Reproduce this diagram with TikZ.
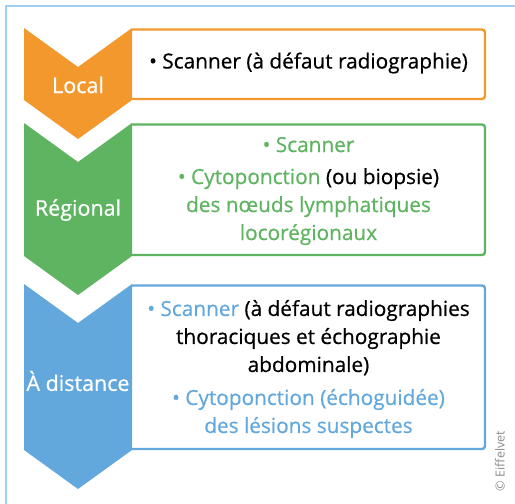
\documentclass[tikz,border=0pt]{standalone}
\usepackage{fontspec}
\setmainfont[FakeBold=0.6]{Open Sans}
\newfontfamily\plainsans{Open Sans}
\definecolor{orangeC}{RGB}{243,152,45}
\definecolor{greenC}{RGB}{94,180,97}
\definecolor{blueC}{RGB}{99,168,220}
\definecolor{frameC}{RGB}{160,205,240}
\definecolor{copyC}{RGB}{140,140,140}
\begin{document}
\begin{tikzpicture}[x=1pt,y=-1pt,
  chevlabel/.style={text=white,font=\fontsize{21.5}{25}\selectfont},
  boxframe/.style={line width=2.4pt,rounded corners=3pt},
  boxtext/.style={align=center,font=\fontsize{20.8}{28}\selectfont,inner sep=0pt},
  copytext/.style={rotate=90,text=copyC,font=\plainsans\fontsize{12.5}{14}\selectfont}]
\useasboundingbox (0,0) rectangle (515,504);
% outer frame, open to the right and bottom edges
\draw[frameC,line width=1.5pt] (6,520) -- (6,6) -- (530,6);

% chevrons
\fill[orangeC] (24,28) -- (78,67) -- (132,28) -- (132,100) -- (78,139) -- (24,100) -- cycle;
\fill[greenC]  (24,123) -- (78,162) -- (132,123) -- (132,256) -- (78,295) -- (24,256) -- cycle;
\fill[blueC]   (24,284) -- (78,323) -- (132,284) -- (132,450) -- (78,489) -- (24,450) -- cycle;

% boxes attached to the chevrons
\draw[orangeC,boxframe] (132,29.5) -- (485,29.5) -- (485,99) -- (132,99);
\draw[greenC,boxframe]  (132,124.5) -- (485,124.5) -- (485,255) -- (132,255);
\draw[blueC,boxframe]   (132,285.5) -- (485,285.5) -- (485,449) -- (132,449);

% stage labels
\node[chevlabel] (local) at (78,85) {Local};
\node[chevlabel] (regional) at (78,210) {Régional};
\node[chevlabel] (distance) at (78,381) {À distance};

% box contents
\node[boxtext] (t1) at (308.5,63) {• Scanner (à défaut radiographie)};
\node[boxtext,text=greenC] (t2) at (308.5,191) {• Scanner\\[4pt]
  • Cytoponction \textcolor{black}{(ou biopsie)}\\
  des nœuds lymphatiques\\
  locorégionaux};
\node[boxtext] (t3) at (308.5,369) {\textcolor{blueC}{• Scanner} (à défaut radiographies\\
  thoraciques et échographie\\
  abdominale)\\[5pt]
  \textcolor{blueC}{• Cytoponction (échoguidée)}\\
  \textcolor{blueC}{des lésions suspectes}};

\node[copytext] (copy) at (500,461) {© Eiffelvet};
\end{tikzpicture}
\end{document}
